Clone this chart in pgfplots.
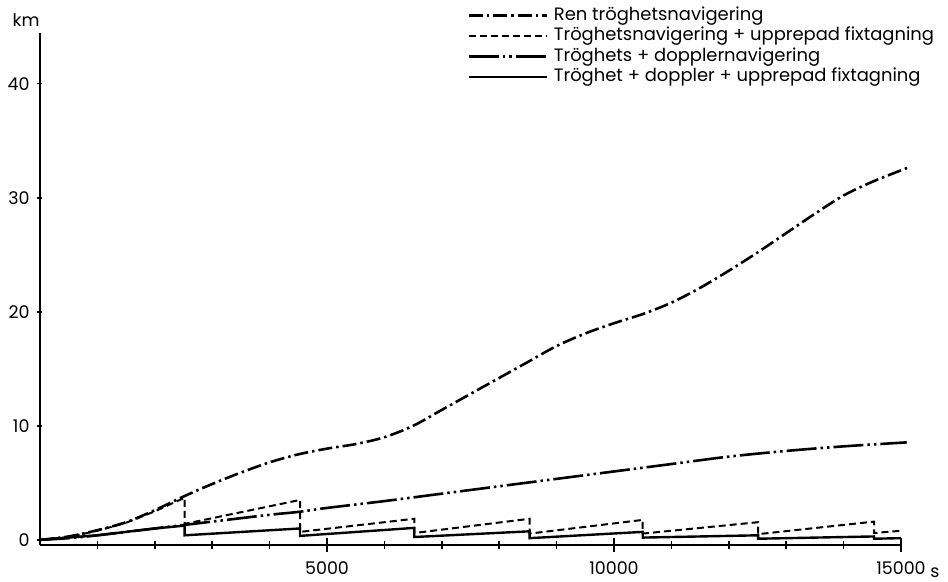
\documentclass[border=0pt]{standalone}
\usepackage{fontspec}
\setmainfont{Poppins}
\usepackage{pgfplots}
\pgfplotsset{compat=1.18}
\begin{document}
\begin{tikzpicture}
\begin{axis}[
  scale only axis, width=861bp, height=512bp,
  xmin=0, xmax=15000, ymin=-0.45, ymax=44.45,
  clip=false,
  axis lines=left, axis line style={-, line width=1.8bp},
  xtick={5000,10000,15000},
  minor xtick={1000,2000,3000,4000,6000,7000,8000,9000,11000,12000,13000,14000},
  ytick={0,10,20,30,40},
  tick align=center,
  major tick length=14bp, minor tick length=7bp,
  y tick style={/pgfplots/major tick length=5bp},
  tick style={line width=1.5bp, black},
  scaled ticks=false,
  /pgf/number format/1000 sep={},
  /pgf/number format/assume math mode=true,
  tick label style={font=\fontsize{17.5}{20}\selectfont},
  xticklabel style={yshift=-9bp, inner sep=1bp},
  legend style={at={(0.496,1.054)}, anchor=north west, draw=none, fill=none,
    inner sep=0pt, row sep=0pt, font=\fontsize{18}{20}\selectfont,
    nodes={text height=12.5bp, text depth=4bp, inner sep=2bp},
    /tikz/every odd column/.append style={column sep=4bp}},
  legend cell align=left,
  legend image code/.code={\draw[#1] (0bp,0bp) -- (78bp,0bp);},
]
\addplot[black, line width=2.6bp, dash pattern=on 14bp off 4bp on 2.5bp off 4bp, smooth] coordinates {
(0,0) (500,0.3) (1000,0.85) (1500,1.55) (2000,2.6) (2500,3.8) (3000,4.9) (3500,5.9)
(4000,6.8) (4500,7.5) (5000,8.0) (5500,8.4) (6000,9.0) (6500,10.0) (7000,11.4)
(7500,12.8) (8000,14.2) (8500,15.6) (9000,17.0) (9500,18.1) (10000,19.0) (10500,19.8)
(11000,20.8) (11500,22.1) (12000,23.6) (12500,25.2) (13000,26.9) (13500,28.6)
(14000,30.2) (14500,31.4) (15150,32.7)};
\addlegendentry{Ren tröghetsnavigering}
\addplot[black, line width=2bp, dash pattern=on 7bp off 4bp] coordinates {
(0,0) (500,0.25) (1000,0.8) (1500,1.5) (2000,2.5) (2520,3.7)
(2520,1.4) (4530,3.5)
(4530,0.7) (6520,1.85)
(6520,0.6) (8530,1.85)
(8530,0.55) (10500,1.75)
(10500,0.55) (12510,1.55)
(12510,0.5) (14530,1.6)
(14530,0.6) (15000,0.8)};
\addlegendentry{Tröghetsnavigering + upprepad fixtagning}
\addplot[black, line width=2.6bp, dash pattern=on 30bp off 4bp on 2.5bp off 4bp on 2.5bp off 4bp, smooth] coordinates {
(0,0) (500,0.15) (1000,0.4) (1500,0.7) (2000,1.0) (2500,1.3) (3000,1.6) (4000,2.2)
(4500,2.45) (5000,2.8) (6000,3.4) (7000,4.05) (8000,4.7) (9000,5.35) (10000,6.0)
(11000,6.65) (12000,7.3) (13000,7.8) (14000,8.2) (15100,8.55)};
\addlegendentry{Tröghets + dopplernavigering}
\addplot[black, line width=2.4bp] coordinates {
(0,0) (1000,0.4) (2000,1.0) (2520,1.25)
(2520,0.4) (4530,1.0)
(4530,0.35) (6520,1.05)
(6520,0.25) (8530,0.75)
(8530,0.15) (10500,0.7)
(10500,0.2) (12510,0.4)
(12510,0.1) (14530,0.3)
(14530,0.1) (15000,0.15)};
\addlegendentry{Tröghet + doppler + upprepad fixtagning}
\node[anchor=base, font=\fontsize{17.5}{20}\selectfont] at (rel axis cs:0,1) [xshift=-14bp, yshift=6bp] {km};
\node[anchor=base, font=\fontsize{17.5}{20}\selectfont, inner sep=1bp] at (rel axis cs:1,0) [xshift=34bp, yshift=-32bp] {s};
\end{axis}
\path (-40bp,-37bp) rectangle (908bp,545bp);
\end{tikzpicture}
\end{document}
